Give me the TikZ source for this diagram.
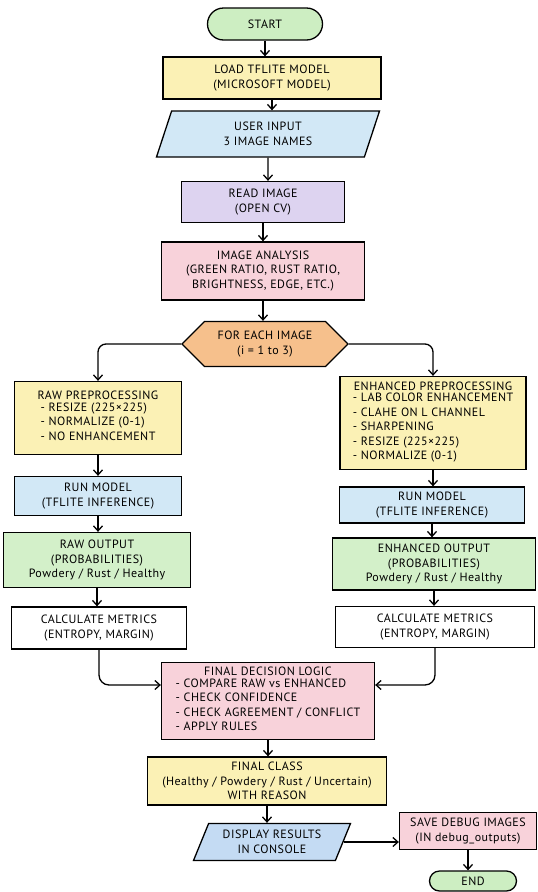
\documentclass[tikz,border=0pt]{standalone}
\usepackage{fontspec}
\setmainfont[LetterSpace=4]{PT Sans}
\usetikzlibrary{shapes.geometric,shapes.symbols,arrows.meta}
\definecolor{termgreen}{HTML}{CDEEC2}
\definecolor{boxyellow}{HTML}{FBF1B5}
\definecolor{inblue}{HTML}{D2E8F6}
\definecolor{readpurple}{HTML}{DDD3F0}
\definecolor{boxpink}{HTML}{F8D2DA}
\definecolor{hexorange}{HTML}{F6C08C}
\definecolor{outgreen}{HTML}{D3F0C9}
\definecolor{dispblue}{HTML}{C4DBF3}
\begin{document}
\begin{tikzpicture}[x=1pt,y=-1pt,
	every node/.style={draw=black,line width=1.3pt,font=\fontsize{12}{14.5}\selectfont,align=center,inner sep=1.5pt},
	proc/.style={rectangle},
	term/.style={rectangle,fill=termgreen},
	io/.style={trapezium,trapezium left angle=60,trapezium right angle=120,trapezium stretches body},
	loopbox/.style={signal,signal to=west and east,signal pointer angle=90,fill=hexorange},
	flow/.style={line width=1.3pt,-{Straight Barb[length=5pt,width=9pt]}}]
			\useasboundingbox (0,0) rectangle (538,892);
			\node[term, minimum width=115pt, minimum height=32pt, rounded corners=16pt] (start) at (265,24) {START};
			\node[proc, fill=boxyellow, minimum width=218pt, minimum height=42pt] (load) at (272,78) {LOAD TFLITE MODEL\\(MICROSOFT MODEL)};
			\node[io, fill=inblue, minimum width=223pt, minimum height=46pt] (input) at (268,134) {USER INPUT\\3 IMAGE NAMES};
			\node[proc, fill=readpurple, minimum width=163pt, minimum height=41pt] (read) at (263,202) {READ IMAGE\\(OPEN CV)};
			\node[proc, fill=boxpink, minimum width=203pt, minimum height=58pt] (analysis) at (263,271) {IMAGE ANALYSIS\\(GREEN RATIO, RUST RATIO,\\BRIGHTNESS, EDGE, ETC.)};
			\node[loopbox, minimum width=166pt, minimum height=45pt] (each) at (265,344) {FOR EACH IMAGE\\(i = 1 to 3)};
			\node[proc, fill=boxyellow, minimum width=167pt, minimum height=73pt] (rawprep) at (98,418) {RAW PREPROCESSING\\\begin{tabular}{@{}l@{}}- RESIZE (225×225)\\- NORMALIZE (0-1)\\- NO ENHANCEMENT\end{tabular}};
			\node[proc, fill=boxyellow, minimum width=186pt, minimum height=93pt] (enhprep) at (433,423) {ENHANCED PREPROCESSING\\\begin{tabular}{@{}l@{}}- LAB COLOR ENHANCEMENT\\- CLAHE ON L CHANNEL\\- SHARPENING\\- RESIZE (225×225)\\- NORMALIZE (0-1)\end{tabular}};
			\node[proc, fill=inblue, minimum width=167pt, minimum height=39pt] (rawrun) at (98,496) {RUN MODEL\\(TFLITE INFERENCE)};
			\node[proc, fill=inblue, minimum width=185pt, minimum height=36pt] (enhrun) at (432,505) {RUN MODEL\\(TFLITE INFERENCE)};
			\node[proc, fill=outgreen, minimum width=187pt, minimum height=55pt] (rawout) at (97,560) {RAW OUTPUT\\(PROBABILITIES)\\Powdery / Rust / Healthy};
			\node[proc, fill=outgreen, minimum width=203pt, minimum height=52pt] (enhout) at (434,564) {ENHANCED OUTPUT\\(PROBABILITIES)\\Powdery / Rust / Healthy};
			\node[proc, fill=white, minimum width=175pt, minimum height=42pt] (rawmet) at (99,628) {CALCULATE METRICS\\(ENTROPY, MARGIN)};
			\node[proc, fill=white, minimum width=199pt, minimum height=41pt] (enhmet) at (435,627) {CALCULATE METRICS\\(ENTROPY, MARGIN)};
			\node[proc, fill=boxpink, minimum width=213pt, minimum height=77pt] (decide) at (268,701) {FINAL DECISION LOGIC\\\begin{tabular}{@{}l@{}}- COMPARE RAW vs ENHANCED\\- CHECK CONFIDENCE\\- CHECK AGREEMENT / CONFLICT\\- APPLY RULES\end{tabular}};
			\node[proc, fill=boxyellow, minimum width=239pt, minimum height=48pt] (result) at (267,781) {FINAL CLASS\\(Healthy / Powdery / Rust / Uncertain)\\WITH REASON};
			\node[io, fill=dispblue, minimum width=157pt, minimum height=37pt] (display) at (272,842) {DISPLAY RESULTS\\IN CONSOLE};
			\node[proc, fill=boxpink, minimum width=137pt, minimum height=37pt] (save) at (468,831) {SAVE DEBUG IMAGES\\(IN debug\_outputs)};
			\node[term, minimum width=87pt, minimum height=20pt, rounded corners=10pt] (end) at (473,881) {END};
			\draw[flow] (start) -- (start |- load.north);
			\draw[flow] (load) -- (load |- input.north);
			\draw[flow] (input) -- (input |- read.north);
			\draw[flow] (read) -- (read |- analysis.north);
			\draw[flow] (analysis) -- (analysis |- each.north);
			\draw[flow, rounded corners=8pt] (each.west) -| (rawprep.north);
			\draw[flow, rounded corners=8pt] (each.east) -| (enhprep.north);
			\draw[flow] (rawprep) -- (rawprep |- rawrun.north);
			\draw[flow] (rawrun) -- (rawrun |- rawout.north);
			\draw[flow] (rawout) -- (rawout |- rawmet.north);
			\draw[flow] (enhprep) -- (enhprep |- enhrun.north);
			\draw[flow] (enhrun) -- (enhrun |- enhout.north);
			\draw[flow] (enhout) -- (enhout |- enhmet.north);
			\draw[flow, rounded corners=10pt] (rawmet.south) |- ([yshift=16pt]decide.west);
			\draw[flow, rounded corners=10pt] (enhmet.south) |- ([yshift=16pt]decide.east);
			\draw[flow] (decide) -- (decide |- result.north);
			\draw[flow] (result) -- (result |- display.north);
			\draw[flow] (display.east) -- (display.east -| save.west);
			\draw[flow] (save) -- (save |- end.north);
\end{tikzpicture}
\end{document}
